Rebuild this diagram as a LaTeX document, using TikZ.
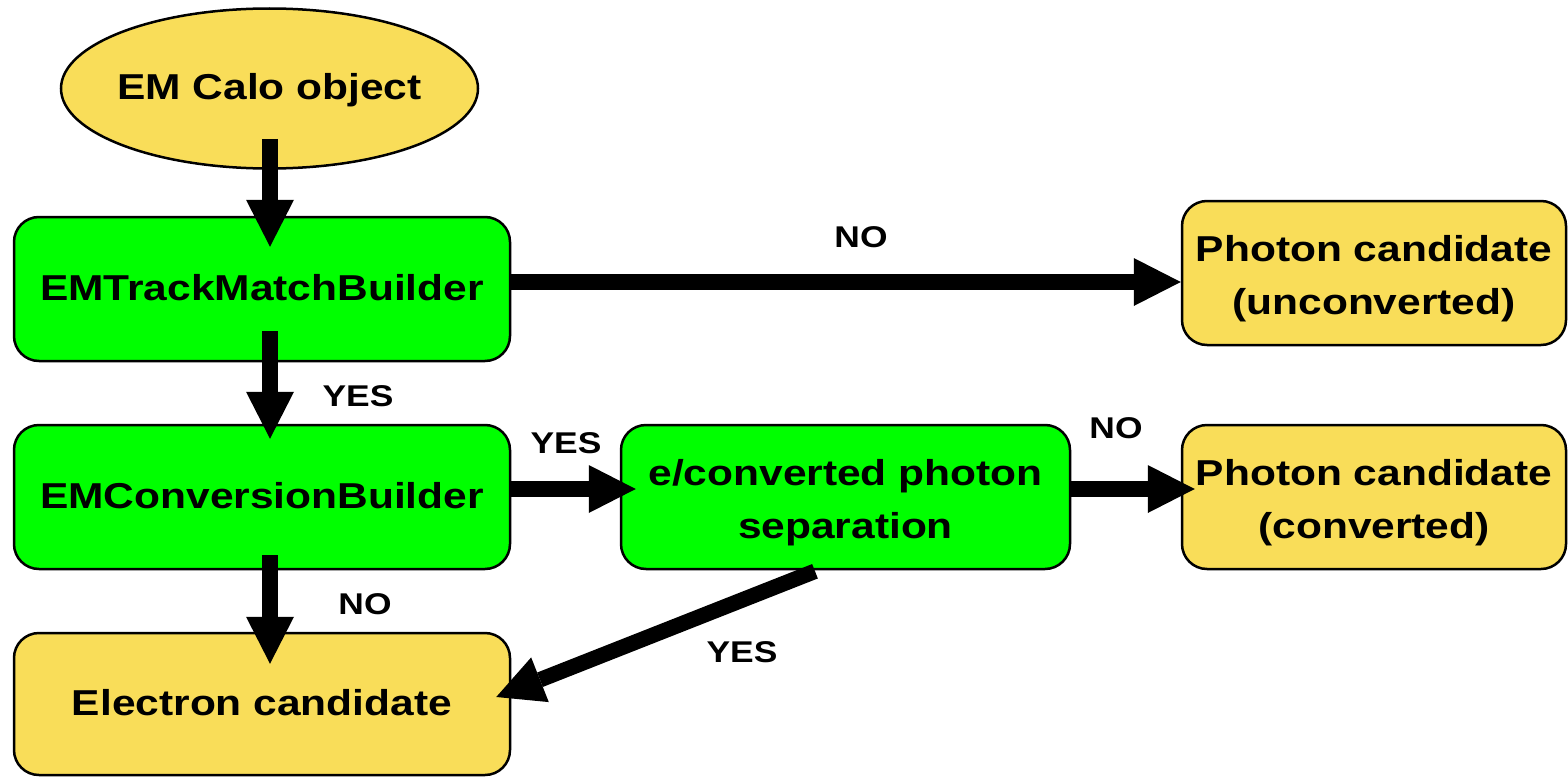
\documentclass[tikz,border=0pt]{standalone}
\usepackage{fontspec}
\setmainfont{Liberation Sans}[FakeStretch=1.18]
\usetikzlibrary{arrows.meta,shapes.geometric}
\definecolor{calyellow}{HTML}{F9DD59}
\definecolor{calgreen}{HTML}{00FF00}
\newcommand\onestrut{\rule[-10pt]{0pt}{42pt}}
\newcommand\twostrut{\rule[-8pt]{0pt}{46pt}}
\tikzset{
  boxbase/.style={draw=black, line width=2.5pt, rounded corners=25pt, align=center,
    inner sep=0pt, font=\bfseries\fontsize{36}{52.6}\selectfont},
  greenbox/.style={boxbase, fill=calgreen},
  yellowbox/.style={boxbase, fill=calyellow},
  arr/.style={line width=15.5pt, -{Triangle[width=48pt,length=47pt,line width=0pt]}, draw=black},
  lbl/.style={font=\bfseries\fontsize{30}{36}\selectfont, inner sep=0pt}
}
\begin{document}
\begin{tikzpicture}[x=1pt,y=-1pt]
\useasboundingbox (0,0) rectangle (1568,776);
% nodes
\node[draw=black, line width=2.5pt, fill=calyellow, ellipse, minimum width=417pt, minimum height=160pt,
  inner xsep=-12pt, inner ysep=0pt, font=\bfseries\fontsize{36}{52.6}\selectfont] (ell) at (269.5,88.5) {\onestrut EM Calo object};
\node[greenbox, minimum width=496pt, minimum height=144pt] (tmb) at (262,289) {\onestrut EMTrackMatchBuilder};
\node[yellowbox, minimum width=384pt, minimum height=144pt] (phu) at (1374,273) {\twostrut Photon candidate\\\twostrut (unconverted)};
\node[greenbox, minimum width=496pt, minimum height=144pt] (conv) at (262,497) {\onestrut EMConversionBuilder};
\node[greenbox, minimum width=449pt, minimum height=144pt] (sep) at (845.5,497) {\twostrut e/converted photon\\\twostrut separation};
\node[yellowbox, minimum width=384pt, minimum height=144pt] (phc) at (1374,497) {\twostrut Photon candidate\\\twostrut (converted)};
\node[yellowbox, minimum width=496pt, minimum height=142pt] (elec) at (262,704) {\onestrut Electron candidate};
% connectors
\draw[arr] ([xshift=0.5pt,yshift=31pt]ell.south) -- ([xshift=0.5pt,yshift=-31pt]ell.south |- tmb.north);
\draw[arr] ([xshift=8pt,yshift=31pt]tmb.south) -- ([xshift=8pt,yshift=-15pt]tmb.south |- conv.north);
\draw[arr] ([yshift=7pt]tmb.east) -- ([yshift=7pt]tmb.east -| phu.west);
\draw[arr] ([yshift=8pt]conv.east) -- ([xshift=16pt,yshift=8pt]conv.east -| sep.west);
\draw[arr] ([yshift=8pt]sep.east) -- ([xshift=14pt,yshift=8pt]sep.east -| phc.west);
\draw[arr] ([xshift=8pt,yshift=15pt]conv.south) -- ([xshift=8pt,yshift=-32pt]conv.south |- elec.north);
\draw[arr] ([xshift=-30.5pt,yshift=-1pt]sep.south) -- ([xshift=-15pt,yshift=7pt]elec.east);
% labels
\node[lbl] (lno1) at (861,237) {NO};
\node[lbl] (lyes1) at (358,396) {YES};
\node[lbl] (lyes2) at (566,443) {YES};
\node[lbl] (lno2) at (1116,428) {NO};
\node[lbl] (lno3) at (365,604) {NO};
\node[lbl] (lyes3) at (742,652) {YES};
\end{tikzpicture}
\end{document}
